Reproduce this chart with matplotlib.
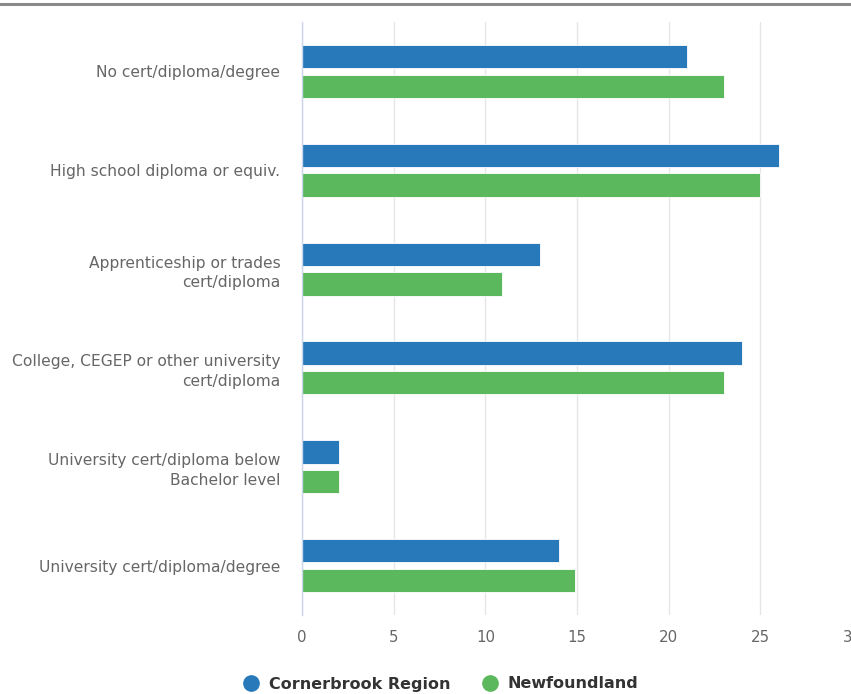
import matplotlib.pyplot as plt
from matplotlib.lines import Line2D
import numpy as np

categories = [
    "No cert/diploma/degree",
    "High school diploma or equiv.",
    "Apprenticeship or trades\ncert/diploma",
    "College, CEGEP or other university\ncert/diploma",
    "University cert/diploma below\nBachelor level",
    "University cert/diploma/degree",
]
cornerbrook = [21, 26, 13, 24, 2, 14]
newfoundland = [23, 25, 10.9, 23, 2, 14.9]
series_names = ["Cornerbrook Region", "Newfoundland"]
colors = ["#2879b9", "#5cb85c"]

W, H = 851, 694
fig = plt.figure(figsize=(W / 100, H / 100), dpi=100)
ax = fig.add_axes([302 / W, (H - 615) / H, 550 / W, 593 / H])

y = np.arange(len(categories))
bh = 0.235
ax.barh(y - 0.15, cornerbrook, height=bh, color=colors[0], zorder=3,
        edgecolor="white", linewidth=0.6)
ax.barh(y + 0.15, newfoundland, height=bh, color=colors[1], zorder=3,
        edgecolor="white", linewidth=0.6)

ax.set_xlim(0, 30)
ax.set_ylim(len(categories) - 0.5, -0.5)
ax.set_xticks([0, 5, 10, 15, 20, 25, 30])
ax.set_yticks(y)
ax.set_yticklabels(categories, ha="right", linespacing=1.4)
ax.tick_params(axis="y", length=0, pad=15.5, labelsize=11.2, labelcolor="#666666")
ax.tick_params(axis="x", length=0, pad=11, labelsize=10.8, labelcolor="#666666")
ax.grid(axis="x", color="#e6e6e6", linewidth=1, zorder=0)
for s in ["top", "right", "bottom"]:
    ax.spines[s].set_visible(False)
ax.spines["left"].set_color("#ccd6eb")
ax.spines["left"].set_linewidth(1)
ax.spines["left"].set_zorder(4)

# top rule
fig.add_artist(Line2D([0, 1], [1 - 4 / H, 1 - 4 / H], color="#8a8a8a", linewidth=2.2))

handles = [Line2D([], [], marker="o", linestyle="", markersize=11,
                  markerfacecolor=c, markeredgecolor=c) for c in colors]
leg = fig.legend(handles, series_names, loc="center", ncol=2,
                 bbox_to_anchor=(441 / W, 1 - 684 / H), frameon=False,
                 handletextpad=0.6, columnspacing=2.0, handlelength=1.0,
                 prop={"weight": "bold", "size": 11.5})
for t in leg.get_texts():
    t.set_color("#333333")

fig.savefig("out.png", dpi=100)
